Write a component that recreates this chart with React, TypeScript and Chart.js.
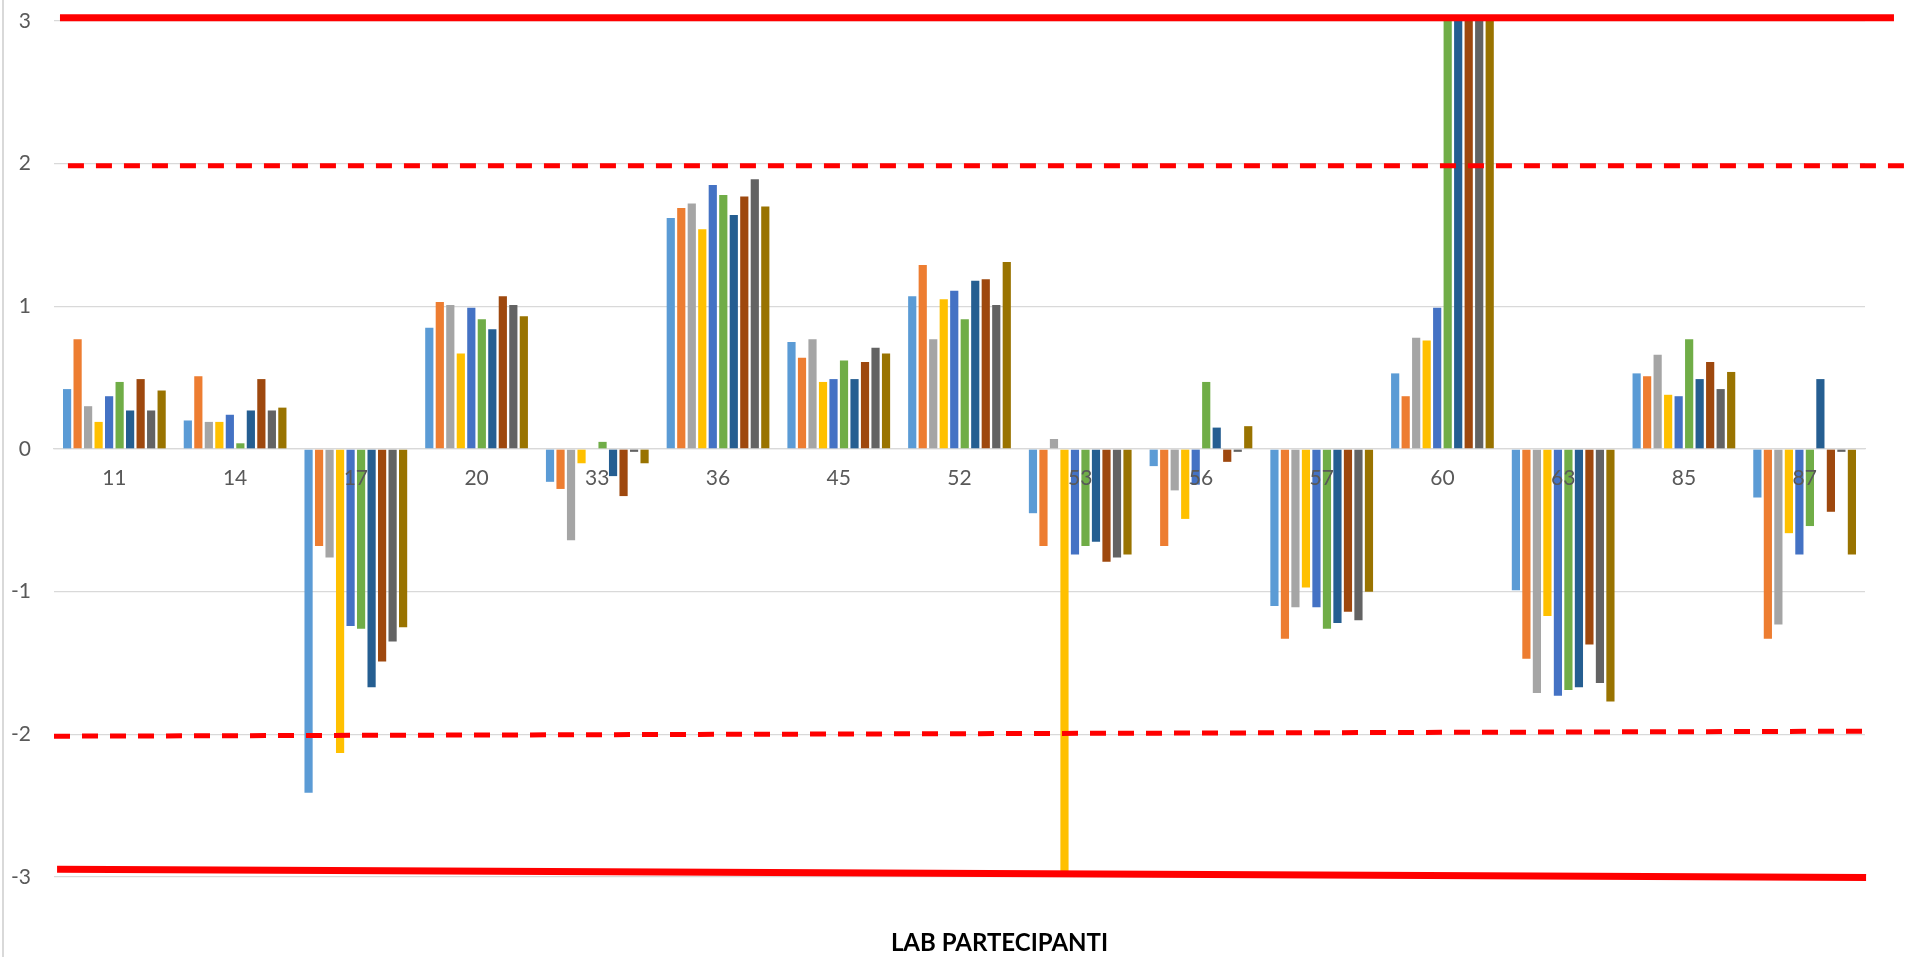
import React, { useEffect, useRef } from "react";
import { Chart, registerables } from "chart.js";

Chart.register(...registerables);

const categories = ["11", "14", "17", "20", "33", "36", "45", "52", "53", "56", "57", "60", "63", "85", "87"];

const seriesNames = ["Serie1", "Serie2", "Serie3", "Serie4", "Serie5", "Serie6", "Serie7", "Serie8", "Serie9", "Serie10"];
const seriesColors = ["#5B9BD5", "#ED7D31", "#A5A5A5", "#FFC000", "#4472C4", "#70AD47", "#255E91", "#9E480E", "#636363", "#997300"];

const serie1 = [0.42, 0.20, -2.41, 0.85, -0.23, 1.62, 0.75, 1.07, -0.45, -0.12, -1.10, 0.53, -0.99, 0.53, -0.34];
const serie2 = [0.77, 0.51, -0.68, 1.03, -0.28, 1.69, 0.64, 1.29, -0.68, -0.68, -1.33, 0.37, -1.47, 0.51, -1.33];
const serie3 = [0.30, 0.19, -0.76, 1.01, -0.64, 1.72, 0.77, 0.77, 0.07, -0.29, -1.11, 0.78, -1.71, 0.66, -1.23];
const serie4 = [0.19, 0.19, -2.13, 0.67, -0.10, 1.54, 0.47, 1.05, -3.5, -0.49, -0.97, 0.76, -1.17, 0.38, -0.59];
const serie5 = [0.37, 0.24, -1.24, 0.99, 0, 1.85, 0.49, 1.11, -0.74, -0.25, -1.11, 0.99, -1.73, 0.37, -0.74];
const serie6 = [0.47, 0.04, -1.26, 0.91, 0.05, 1.78, 0.62, 0.91, -0.68, 0.47, -1.26, 4, -1.69, 0.77, -0.54];
const serie7 = [0.27, 0.27, -1.67, 0.84, -0.19, 1.64, 0.49, 1.18, -0.65, 0.15, -1.22, 4, -1.67, 0.49, 0.49];
const serie8 = [0.49, 0.49, -1.49, 1.07, -0.33, 1.77, 0.61, 1.19, -0.79, -0.09, -1.14, 4, -1.37, 0.61, -0.44];
const serie9 = [0.27, 0.27, -1.35, 1.01, -0.02, 1.89, 0.71, 1.01, -0.76, -0.02, -1.20, 4, -1.64, 0.42, -0.02];
const serie10 = [0.41, 0.29, -1.25, 0.93, -0.10, 1.70, 0.67, 1.31, -0.74, 0.16, -1.00, 4, -1.77, 0.54, -0.74];

const allSeries = [serie1, serie2, serie3, serie4, serie5, serie6, serie7, serie8, serie9, serie10];

const yTicks = [-3, -2, -1, 0, 1, 2, 3];
const axisTitle = "LAB PARTECIPANTI";

// reference lines (drawn shapes): start/end values, start/end as fraction of plot width
const refY1 = [3.023, 1.986, -2.013, -2.945];
const refY2 = [3.023, 1.986, -1.978, -3.003];
const refX1 = [0.0033, 0.0077, 0.0, 0.0017];
const refX2 = [1.016, 1.03, 0.9999, 1.0006];
const refDashed = [false, true, true, false];

const refLinesPlugin = {
  id: "refLines",
  beforeDraw(chart: any) {
    const ctx = chart.ctx;
    ctx.save();
    ctx.strokeStyle = "#d9d9d9";
    ctx.lineWidth = 2;
    ctx.beginPath();
    ctx.moveTo(3, 0);
    ctx.lineTo(3, chart.height);
    ctx.stroke();
    ctx.restore();
  },
  afterDraw(chart: any) {
    const ctx = chart.ctx;
    const area = chart.chartArea;
    const ys = chart.scales.y;
    const w = area.right - area.left;
    ctx.save();
    for (let i = 0; i < refY1.length; i++) {
      ctx.beginPath();
      ctx.strokeStyle = "#FF0000";
      ctx.lineCap = "butt";
      if (refDashed[i]) {
        ctx.lineWidth = 5;
        ctx.setLineDash([16, 12]);
      } else {
        ctx.lineWidth = 7;
        ctx.setLineDash([]);
      }
      ctx.moveTo(area.left + w * refX1[i], ys.getPixelForValue(refY1[i]));
      ctx.lineTo(area.left + w * refX2[i], ys.getPixelForValue(refY2[i]));
      ctx.stroke();
    }
    ctx.setLineDash([]);
    ctx.fillStyle = "#000000";
    ctx.font = "bold 24px Lato";
    ctx.textAlign = "center";
    ctx.textBaseline = "middle";
    ctx.fillText(axisTitle, (area.left + area.right) / 2 + 40, area.bottom + 66);
    ctx.restore();
  },
};

export default function App() {
  const canvasRef = useRef<HTMLCanvasElement | null>(null);

  useEffect(() => {
    if (!canvasRef.current) return;
    const chart = new Chart(canvasRef.current, {
      type: "bar",
      data: {
        labels: categories,
        datasets: allSeries.map((s, i) => ({
          label: seriesNames[i],
          data: s,
          backgroundColor: seriesColors[i],
          borderWidth: 0,
          categoryPercentage: 0.87,
          barPercentage: 0.78,
        })),
      },
      options: {
        animation: false,
        responsive: true,
        maintainAspectRatio: false,
        layout: { padding: { top: 21, left: 0, right: 40, bottom: 80 } },
        plugins: {
          legend: { display: false },
          tooltip: { enabled: false },
          title: { display: false },
        },
        scales: {
          x: {
            position: { y: 0 } as any,
            grid: { display: false, drawTicks: false },
            border: { display: true, color: "#d9d9d9", width: 1.3 },
            ticks: {
              z: 1,
              padding: 17,
              color: "#595959",
              font: { family: "Lato", size: 21 },
              maxRotation: 0,
              autoSkip: false,
            },
          },
          y: {
            min: -3,
            max: 3,
            afterFit: (scale: any) => {
              scale.width = 54;
              scale.paddingTop = 0;
              scale.paddingBottom = 0;
            },
            afterBuildTicks: (scale: any) => {
              scale.ticks = yTicks.map((v) => ({ value: v }));
            },
            grid: { color: "#d9d9d9", lineWidth: 1.3, drawTicks: false },
            border: { display: false },
            ticks: {
              padding: 23,
              color: "#595959",
              font: { family: "Lato", size: 21 },
            },
          },
        },
      },
      plugins: [refLinesPlugin],
    });
    return () => chart.destroy();
  }, []);

  return (
    <div style={{ position: "absolute", left: 0, top: 0, width: 1905, height: 957, background: "#ffffff" }}>
      <canvas ref={canvasRef} />
    </div>
  );
}
